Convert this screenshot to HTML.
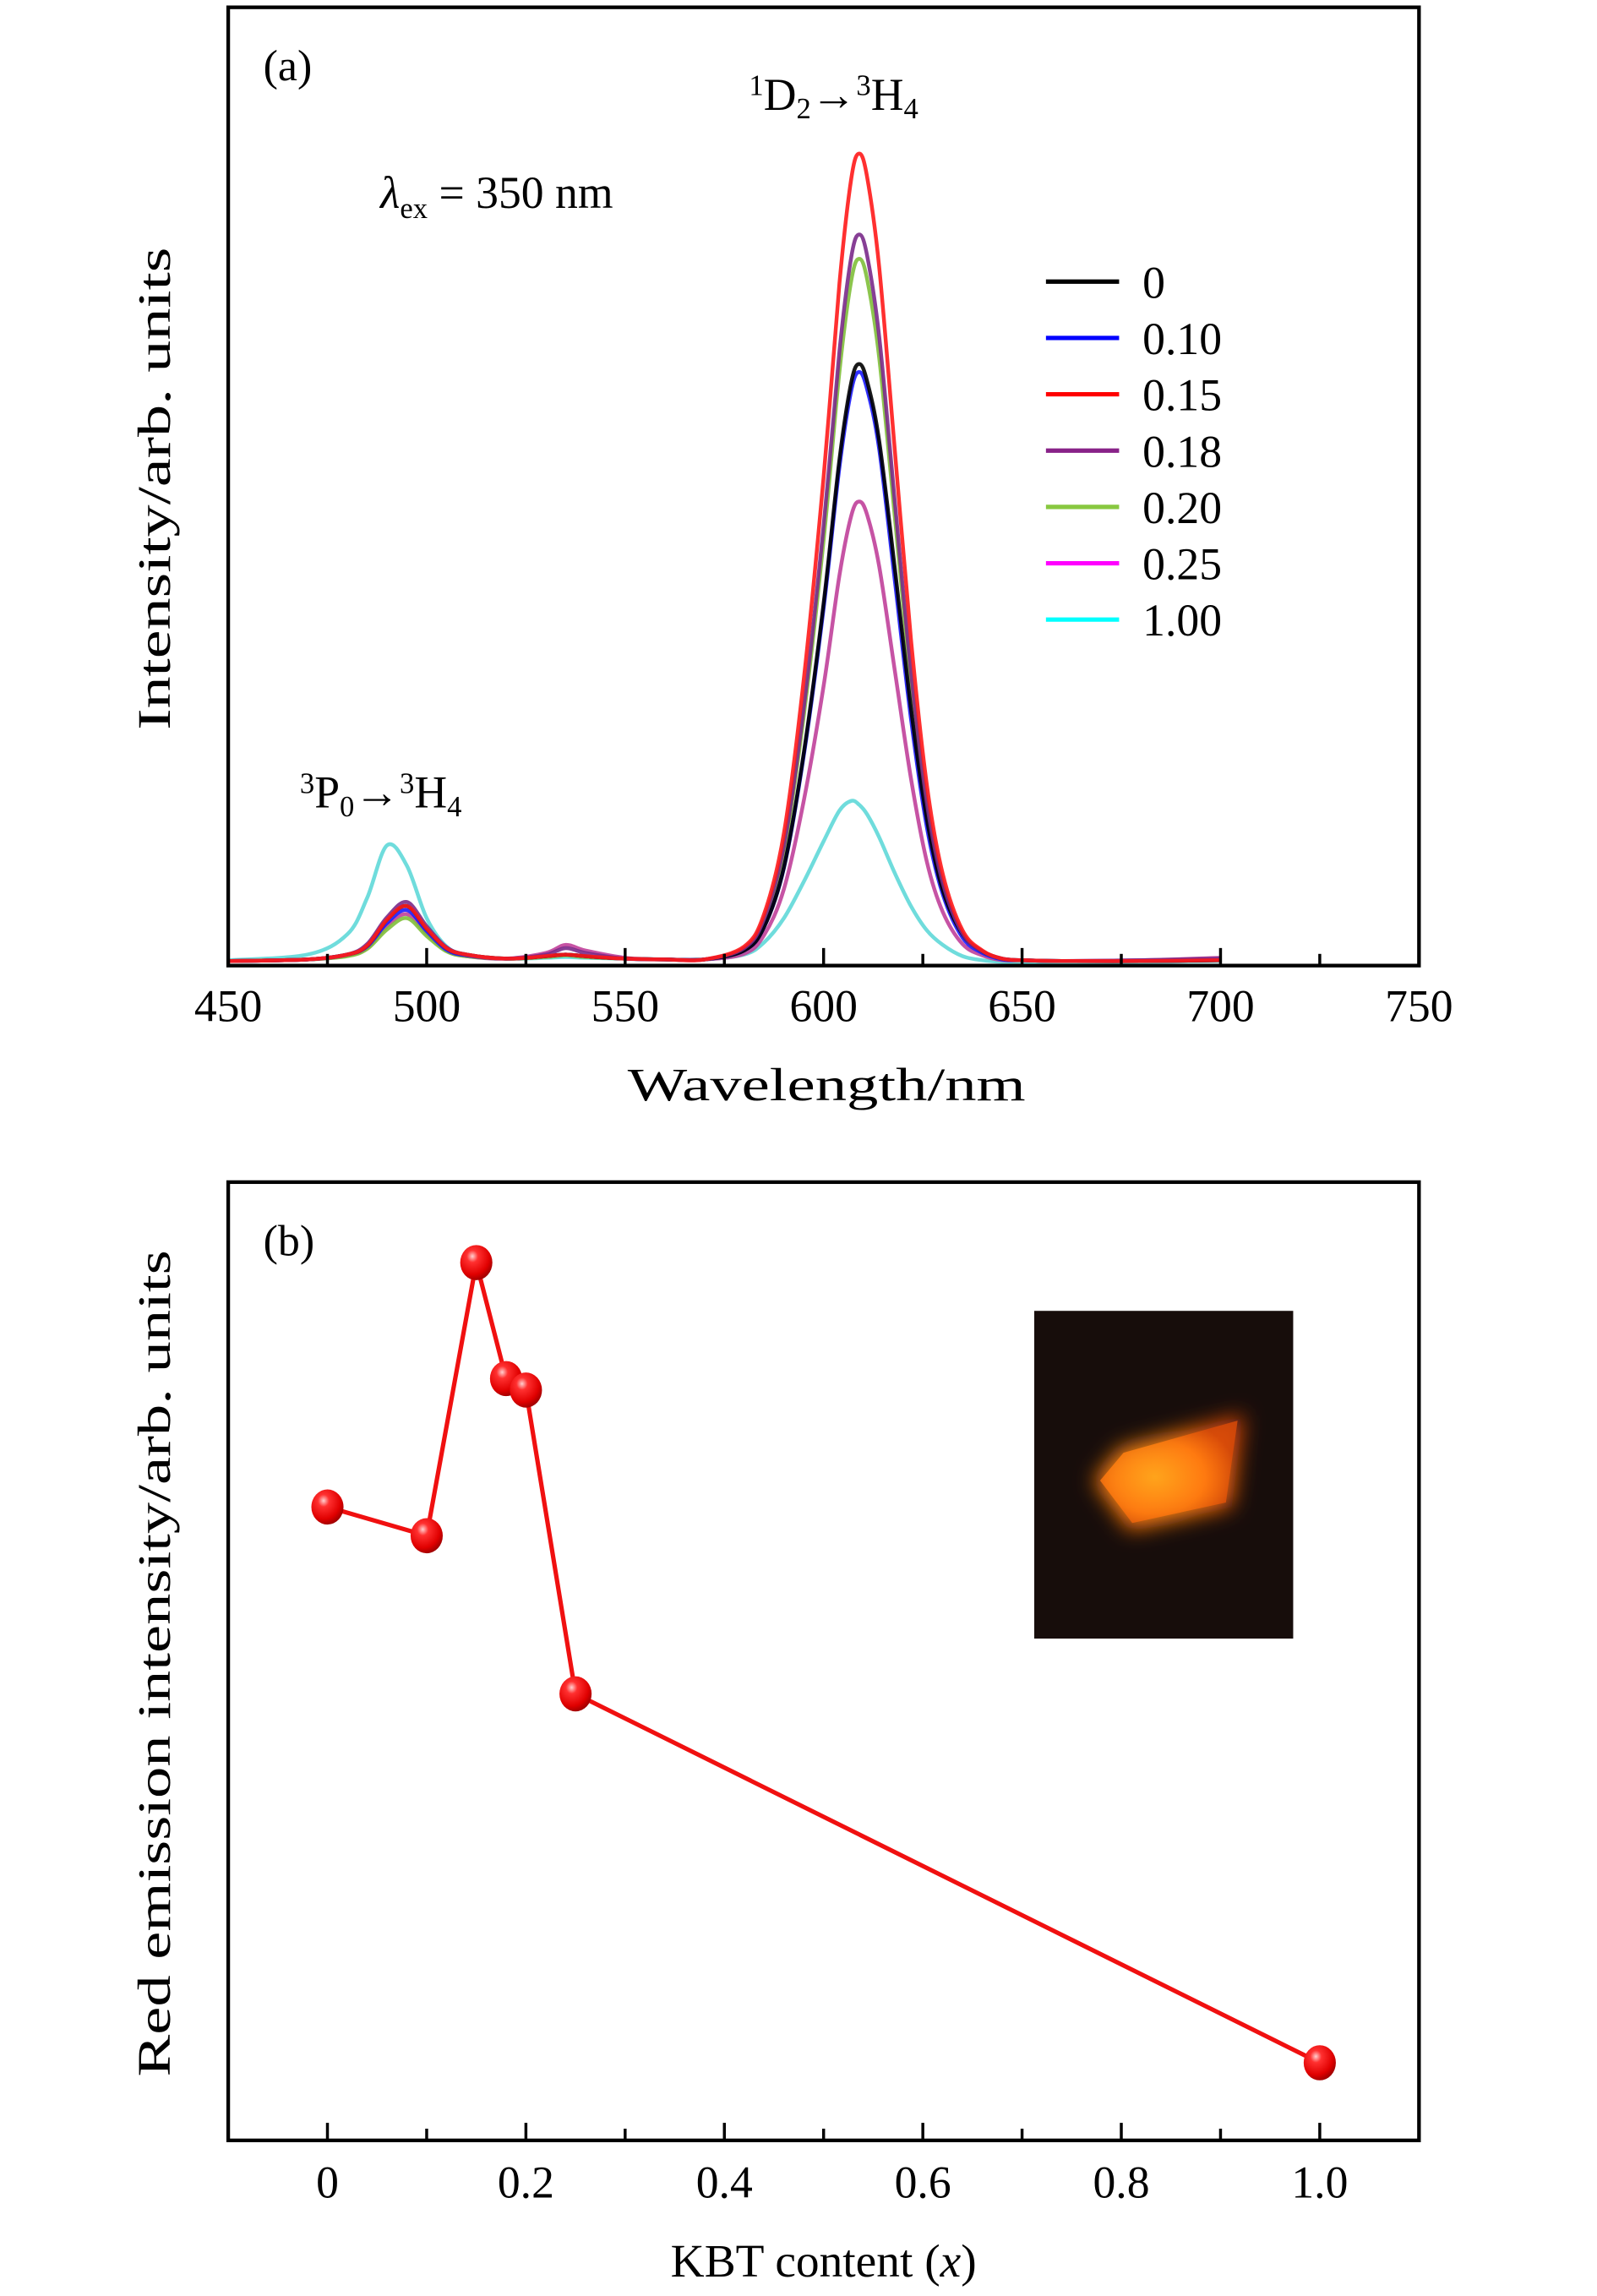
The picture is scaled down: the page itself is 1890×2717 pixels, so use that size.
<!DOCTYPE html>
<html><head><meta charset="utf-8">
<style>
html,body{margin:0;padding:0;background:#fff;}
svg{display:block;}
text{font-family:"Liberation Serif","DejaVu Serif",serif;fill:#000;}
</style></head>
<body>
<svg id="fig" width="1890" height="2717" viewBox="0 0 1080 1552.57" xmlns="http://www.w3.org/2000/svg">
<defs>
<radialGradient id="ball" cx="0.38" cy="0.32" r="0.7">
<stop offset="0" stop-color="#ffd0d0"/>
<stop offset="0.25" stop-color="#ff3030"/>
<stop offset="0.75" stop-color="#e00000"/>
<stop offset="1" stop-color="#a00000"/>
</radialGradient>
<filter id="blur" x="-50%" y="-50%" width="200%" height="200%"><feGaussianBlur stdDeviation="7"/></filter>
<radialGradient id="glow" cx="0.4" cy="0.55" r="0.6">
<stop offset="0" stop-color="#ffa51c"/>
<stop offset="0.6" stop-color="#ff7a10"/>
<stop offset="1" stop-color="#d84a08"/>
</radialGradient>
</defs>
<g transform="scale(0.9893)">
<g id="panelA"></g>
<g id="panelB"></g>
</g>
</svg>
<script>
// ---------- Panel (a) data ----------
const wavelengths = [450,470,480,485,490,495,500,505,510,520,530,535,540,550,560,570,580,585,590,595,600,604,607,609,611,614,618,622,626,630,635,640,645,650,660,680,700];
const seriesLabels = ["0","0.10","0.15","0.18","0.20","0.25","1.00"];
const seriesColors = ["#000000","#1a1aff","#ff1a1a","#7a2a8a","#7fbf3a","#c0409a","#5fd8d8"];
const legendColors = ["#000000","#0000ff","#ff0000","#882288","#88c840","#ff00ff","#00ffff"];
const sBlack  = [0.2,0.4,1.0,2.1,5.3,7.0,4.2,1.8,1.0,0.5,0.8,1.0,0.8,0.5,0.4,0.4,1.5,4.4,11.8,25.9,44.4,62.2,71.8,74,71.8,64.5,48.5,31.5,17.8,9.0,3.5,1.4,0.5,0.3,0.2,0.2,0.3];
const sBlue   = [0.2,0.4,1.0,2.0,4.9,6.5,3.9,1.6,0.9,0.5,0.8,1.0,0.8,0.5,0.4,0.4,1.5,4.4,11.7,25.6,43.8,61.3,70.8,73,70.8,63.5,47.0,30.2,16.8,8.5,3.1,1.2,0.4,0.3,0.2,0.2,0.3];
const sRed    = [0.2,0.4,1.0,2.1,5.3,7.0,4.2,1.8,1.0,0.5,0.8,1.0,0.8,0.5,0.4,0.4,2.0,6.0,16,35,60,84,97,100,97,86,63,40,22,11,4.0,1.5,0.5,0.3,0.2,0.2,0.3];
const sPurple = [0.2,0.4,1.0,2.3,5.6,7.5,4.5,1.9,1.0,0.5,1.0,1.8,1.2,0.5,0.4,0.4,1.8,5.4,14.4,31.5,54,75.6,87.3,90,87.3,77.4,56.7,36,19.8,9.9,3.6,1.4,0.5,0.3,0.2,0.3,0.5];
const sGreen  = [0.2,0.4,0.8,1.7,4.1,5.5,3.3,1.4,0.8,0.5,0.7,0.9,0.7,0.5,0.4,0.4,1.7,5.2,13.9,30.5,52.2,73.1,84.4,87,84.4,74.8,54.8,34.8,19.1,9.6,3.5,1.3,0.4,0.3,0.2,0.2,0.3];
const sMagenta= [0.2,0.4,0.9,1.8,4.5,6.0,3.6,1.5,0.8,0.5,1.2,2.2,1.5,0.6,0.4,0.4,1.1,3.4,9.1,20,34.2,47.9,55.3,57,55.3,49,35.9,22.8,12.5,6.3,2.3,0.9,0.3,0.3,0.2,0.3,0.6];
const sCyan   = [0.3,1.0,3.5,8.0,14.5,12.0,5.5,2.0,1.0,0.5,0.6,0.7,0.6,0.5,0.4,0.4,1.0,2.5,5.5,10,15,18.8,20,19.5,18.3,15.5,11,7,4,2.2,0.8,0.3,0.1,0.1,0.1,0.1,0.2];
const allSeries = [sBlack,sBlue,sRed,sPurple,sGreen,sMagenta,sCyan];
const drawOrder = [6,5,4,1,0,3,2];
const xTicksA = [450,500,550,600,650,700,750];

// ---------- Panel (b) data ----------
const kbtContent = [0,0.10,0.15,0.18,0.20,0.25,1.00];
const redIntensity = [66.1,63.1,91.6,79.5,78.3,46.6,8.1];
const xTicksB = [0,0.2,0.4,0.6,0.8,1.0];
const xTickLabelsB = ["0","0.2","0.4","0.6","0.8","1.0"];

const NS="http://www.w3.org/2000/svg";
function mk(parent,tag,attrs,txt){const e=document.createElementNS(NS,tag);for(const k in attrs)e.setAttribute(k,attrs[k]);if(txt!==undefined)e.textContent=txt;parent.appendChild(e);return e;}
function smooth(pts){let d="M"+pts[0][0].toFixed(2)+","+pts[0][1].toFixed(2);
 for(let i=0;i<pts.length-1;i++){const p0=pts[i-1]||pts[i],p1=pts[i],p2=pts[i+1],p3=pts[i+2]||p2;
  const c1=[p1[0]+(p2[0]-p0[0])/6,p1[1]+(p2[1]-p0[1])/6],c2=[p2[0]-(p3[0]-p1[0])/6,p2[1]-(p3[1]-p1[1])/6];
  d+=" C"+c1[0].toFixed(2)+","+c1[1].toFixed(2)+" "+c2[0].toFixed(2)+","+c2[1].toFixed(2)+" "+p2[0].toFixed(2)+","+p2[1].toFixed(2);}
 return d;}

// ===== Panel A =====
const A=document.getElementById('panelA');
const aL=156,aR=970,aT=5,aB=660;
const xA=w=>aL+(w-450)/(750-450)*(aR-aL);
const yA=v=>658-v*5.53;
drawOrder.forEach(si=>{
  const pts=wavelengths.map((w,i)=>[xA(w),yA(allSeries[si][i])]);
  const p=mk(A,'path',{d:smooth(pts),fill:'none',stroke:seriesColors[si],'stroke-width':2.6,'stroke-linejoin':'round','stroke-opacity':0.9});
  
  
});
const frameA=mk(A,'rect',{x:aL,y:aT,width:aR-aL,height:aB-aT,fill:'none',stroke:'#000','stroke-width':2.5});


for(let w=450;w<=750;w+=25){
  const major=(w%50===0);
  const t=mk(A,'line',{x1:xA(w),x2:xA(w),y1:aB,y2:aB-(major?12:8),stroke:'#000','stroke-width':2});
  
  
}
xTicksA.forEach(w=>{
  const t=mk(A,'text',{x:xA(w),y:698,'font-size':31,'text-anchor':'middle'},String(w));
  
  
});
let t;
t=mk(A,'text',{x:565,y:752,'font-size':32,'text-anchor':'middle',textLength:272,lengthAdjust:'spacingAndGlyphs'},'Wavelength/nm');

t=mk(A,'text',{x:0,y:0,'font-size':32,'text-anchor':'middle',textLength:330,lengthAdjust:'spacingAndGlyphs',transform:'translate(116,334) rotate(-90)'},'Intensity/arb. units');

t=mk(A,'text',{x:180,y:55,'font-size':30},'(a)');

t=mk(A,'text',{x:512,y:75,'font-size':31});

t.innerHTML='<tspan font-size="20" dy="-10">1</tspan><tspan dy="10">D</tspan><tspan font-size="20" dy="6">2</tspan><tspan dy="-6">→</tspan><tspan font-size="20" dy="-10">3</tspan><tspan dy="10">H</tspan><tspan font-size="20" dy="6">4</tspan>';
t=mk(A,'text',{x:205,y:552,'font-size':31});

t.innerHTML='<tspan font-size="20" dy="-10">3</tspan><tspan dy="10">P</tspan><tspan font-size="20" dy="6">0</tspan><tspan dy="-6">→</tspan><tspan font-size="20" dy="-10">3</tspan><tspan dy="10">H</tspan><tspan font-size="20" dy="6">4</tspan>';
t=mk(A,'text',{x:260,y:142,'font-size':31});

t.innerHTML='<tspan font-style="italic">λ</tspan><tspan font-size="20" dy="7">ex</tspan><tspan dy="-7"> = 350  nm</tspan>';
const lg=mk(A,'g',{});

seriesLabels.forEach((lab,i)=>{
  const y=192.5+i*38.5;
  const l=mk(lg,'line',{x1:715,x2:765,y1:y,y2:y,stroke:legendColors[i],'stroke-width':3});
  
  const tx=mk(lg,'text',{x:781,y:y+11,'font-size':31},lab);
  
});

// ===== Panel B =====
const B=document.getElementById('panelB');
const bL=156,bR=970,bT=808,bB=1463;
const xB=v=>bL+(v+0.1)/1.2*(bR-bL);
const yB=v=>bB-v/100*(bB-bT);
const inset=mk(B,'g',{});

mk(inset,'rect',{x:707,y:896,width:177,height:224,fill:'#170d0b'});
mk(inset,'polygon',{points:'748,1012 766,990 850,967 842,1030 772,1046',fill:'url(#glow)',filter:'url(#blur)'});
mk(inset,'polygon',{points:'752,1012 768,993 846,971 838,1027 774,1041',fill:'url(#glow)',opacity:0.85});
const frameB=mk(B,'rect',{x:bL,y:bT,width:bR-bL,height:bB-bT,fill:'none',stroke:'#000','stroke-width':2.5});

for(let k=0;k<=10;k++){
  const v=k/10;
  const tk=mk(B,'line',{x1:xB(v),x2:xB(v),y1:bB,y2:bB-(k%2===0?12:8),stroke:'#000','stroke-width':2});
  
}
xTicksB.forEach((v,i)=>{
  const tx=mk(B,'text',{x:xB(v),y:1502,'font-size':31,'text-anchor':'middle'},xTickLabelsB[i]);
  
});
t=mk(B,'text',{x:563,y:1556,'font-size':32,'text-anchor':'middle'});

t.innerHTML='KBT content (<tspan font-style="italic">x</tspan>)';
t=mk(B,'text',{x:0,y:0,'font-size':32,'text-anchor':'middle',textLength:565,lengthAdjust:'spacingAndGlyphs',transform:'translate(116,1137) rotate(-90)'},'Red emission intensity/arb. units');

t=mk(B,'text',{x:180,y:858,'font-size':30},'(b)');

const ptsB=kbtContent.map((x,i)=>[xB(x),yB(redIntensity[i])]);
const ln=mk(B,'polyline',{points:ptsB.map(p=>p.join(',')).join(' '),fill:'none',stroke:'#f01010','stroke-width':3});

ptsB.forEach(p=>{
  const c=mk(B,'ellipse',{cx:p[0],cy:p[1],rx:11,ry:12,fill:'url(#ball)'});
  
});
</script>
</body></html>
